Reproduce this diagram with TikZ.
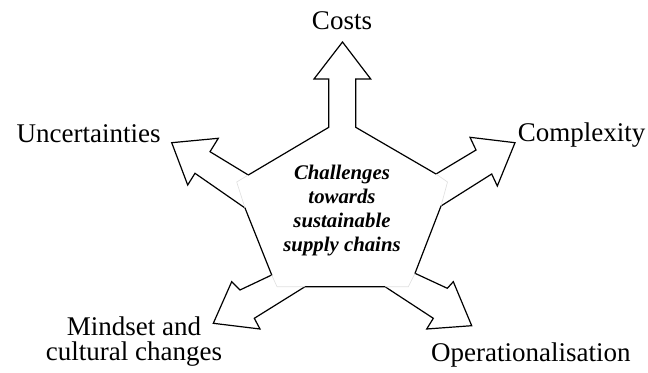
\documentclass[tikz,border=0pt]{standalone}
\usepackage{fontspec}
\setmainfont{Liberation Serif}
\usetikzlibrary{calc}

\begin{document}
\begin{tikzpicture}[x=0.75pt, y=-0.75pt,
        lbl/.style={inner sep=0pt, align=center, font=\fontsize{20.25}{18.75}\selectfont},
        outline/.style={line width=0.9pt, line join=miter},
        ghost/.style={black!12, line width=0.5pt}]
            \useasboundingbox (0,0) rectangle (648,373);

            \node (centre) at (342,210.7) [inner sep=0pt, align=center,
                font=\fontsize{15.6}{18}\selectfont\bfseries\itshape]
                {Challenges\\towards\\sustainable\\supply chains};

            \node (costs) at (342,30) [lbl, anchor=base] {Costs};
            \node (uncert) at (88.7,142.7) [lbl, anchor=base] {Uncertainties};
            \node (complex) at (581.7,141.7) [lbl, anchor=base] {Complexity};
            \node (mindset) at (134,341.2) [lbl] {Mindset and\\cultural changes};
            \node (operat) at (530.8,361.7) [lbl, anchor=base] {Operationalisation};

            % star with five arrows
            \draw [outline] (355.7,127.3) -- (355.7,79) -- (370.7,79) -- (342.5,42)
                -- (314,79) -- (328.8,79) -- (328.8,127.3)
                -- (248.3,175) -- (210,151.7) -- (218.3,138.3) -- (171.7,142.7)
                -- (187.7,185) -- (195,173.3) -- (245,208)
                -- (271.7,275) -- (240,290) -- (231.7,281.7) -- (213.3,323.3)
                -- (260,329) -- (254.3,318.3) -- (305,286.7)
                -- (385,286.7) -- (433.3,318.3) -- (426.7,329) -- (471.7,325.7)
                -- (453.3,281.7) -- (447.3,288.3) -- (415,273.3)
                -- (441,206) -- (491.7,174) -- (497.3,186) -- (515,142.7)
                -- (470,137.3) -- (476,150) -- (436,174) -- cycle;

            % faint corners of the pentagon behind the arrows
            \draw [ghost] (248.3,175) -- (236.7,182) -- (245,208);
            \draw [ghost] (271.7,275) -- (277,286.7) -- (305,286.7);
            \draw [ghost] (385,286.7) -- (408.3,286.7) -- (415,273.3);
            \draw [ghost] (441,206) -- (447.5,182) -- (436,174);

        \end{tikzpicture}
\end{document}
